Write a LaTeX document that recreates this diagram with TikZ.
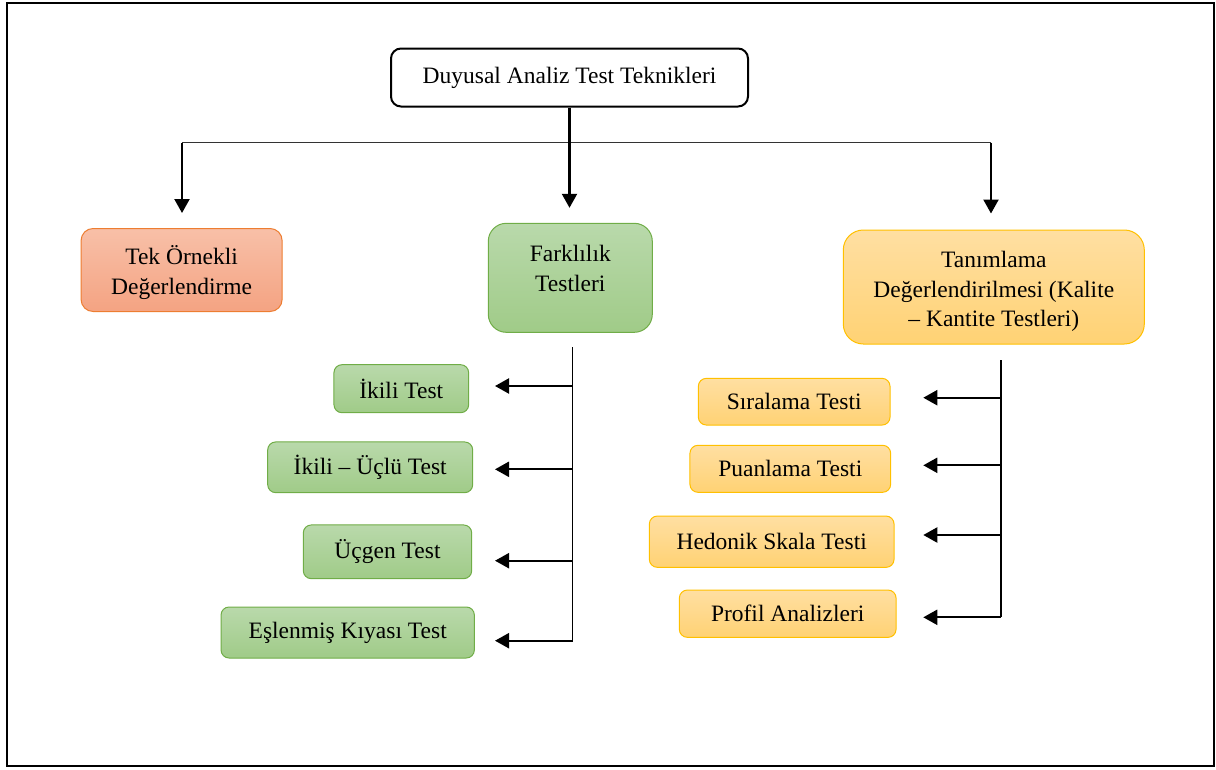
\documentclass[tikz,border=0pt]{standalone}
\usepackage{fontspec}
\setmainfont{Liberation Serif}
\usetikzlibrary{arrows.meta,calc}
\definecolor{salT}{HTML}{F8C0A8}
\definecolor{salB}{HTML}{F4A382}
\definecolor{salD}{HTML}{ED7D31}
\definecolor{grT}{HTML}{B9D9AB}
\definecolor{grB}{HTML}{A0CB88}
\definecolor{grD}{HTML}{70AD47}
\definecolor{yeT}{HTML}{FFDFA2}
\definecolor{yeB}{HTML}{FFD274}
\definecolor{yeD}{HTML}{FFC000}
\begin{document}
\begin{tikzpicture}[x=1pt,y=-1pt,
  font=\fontsize{23.5}{29.5}\selectfont,
  boxbase/.style={inner sep=0pt, align=center, line width=1pt},
  gbox/.style={boxbase, draw=grD, top color=grT, bottom color=grB, rounded corners=8pt},
  ybox/.style={boxbase, draw=yeD, top color=yeT, bottom color=yeB, rounded corners=8pt},
  sbox/.style={boxbase, draw=salD, top color=salT, bottom color=salB, rounded corners=12pt},
  txt/.style={inner sep=0pt, align=center},
  arr/.style={line width=2.2pt, -{Triangle[length=14pt,width=15pt]}},
  vline/.style={line width=1.5pt},
]
\useasboundingbox (0,0) rectangle (1216,769);
\draw[line width=2pt] (6.5,2.5) rectangle (1214,766);

% top
\node[boxbase, draw=black, line width=2pt, rounded corners=10pt, minimum width=357pt, minimum height=58pt] (top) at (569.5,77.5) {Duyusal Analiz Test Teknikleri};

% level 1
\node[sbox, minimum width=201pt, minimum height=83pt] (tek) at (181.6,270) {};
\node[txt] (tekt) at (181.6,272.5) {Tek Örnekli\\Değerlendirme};
\node[gbox, rounded corners=18pt, minimum width=164pt, minimum height=109pt] (far) at (570.3,277.8) {};
\node[txt] (fart) at (570.3,268.4) {Farklılık\\Testleri};
\node[ybox, rounded corners=20pt, minimum width=301pt, minimum height=114pt] (tan) at (993.8,287) {};
\node[txt] (tant) at (993.8,291.7) {Tanımlama\\Değerlendirilmesi (Kalite\\– Kantite Testleri)};

% top connectors
\coordinate (hl) at (182,142.7);
\coordinate (hr) at (991,142.7);
\draw[line width=1pt, black!80] (hl) -- (hr);
\draw[arr, shorten >=15pt] (top.south) -- (top.south |- far.north);
\draw[arr, shorten >=15pt] (hl) -- (hl |- tek.north);
\draw[arr, shorten >=16pt] (hr) -- (hr |- tan.north);

% green sub boxes
\node[gbox, minimum width=134.7pt, minimum height=48pt] (ikili) at (401.3,388.7) {İkili Test};
\node[gbox, minimum width=205pt, minimum height=50.7pt] (ikuc) at (370.2,467.3) {İkili – Üçlü Test};
\node[gbox, minimum width=168.4pt, minimum height=53.7pt] (ucg) at (387.5,551.8) {Üçgen Test};
\node[gbox, minimum width=253.3pt, minimum height=51pt] (esl) at (347.7,632.5) {Eşlenmiş Kıyası Test};

\coordinate (gt) at (572.7,347);
\coordinate (g1) at (572.7,386);
\coordinate (g2) at (572.7,469.3);
\coordinate (g3) at (572.7,560.7);
\coordinate (g4) at (572.7,640.7);
\coordinate (gtip) at (495,386);
\draw[vline] (gt) -- (g4);
\draw[arr] (g1) -- (g1 -| gtip);
\draw[arr] (g2) -- (g2 -| gtip);
\draw[arr] (g3) -- (g3 -| gtip);
\draw[arr] (g4) -- (g4 -| gtip);

% yellow sub boxes
\node[ybox, minimum width=191.7pt, minimum height=46.7pt] (sir) at (794.2,401.7) {Sıralama Testi};
\node[ybox, minimum width=200.7pt, minimum height=47pt] (pua) at (790.3,468.8) {Puanlama Testi};
\node[ybox, minimum width=244.7pt, minimum height=51.3pt] (hed) at (771.7,541.7) {Hedonik Skala Testi};
\node[ybox, minimum width=216.7pt, minimum height=47.3pt] (pro) at (787.7,613.7) {Profil Analizleri};

\coordinate (yt) at (1001,360);
\coordinate (y1) at (1001,397.7);
\coordinate (y2) at (1001,465.3);
\coordinate (y3) at (1001,535);
\coordinate (y4) at (1001,617.3);
\coordinate (ytip) at (923.3,397.7);
\draw[vline] (yt) -- (y4);
\draw[arr] (y1) -- (y1 -| ytip);
\draw[arr] (y2) -- (y2 -| ytip);
\draw[arr] (y3) -- (y3 -| ytip);
\draw[arr] (y4) -- (y4 -| ytip);
\end{tikzpicture}
\end{document}
